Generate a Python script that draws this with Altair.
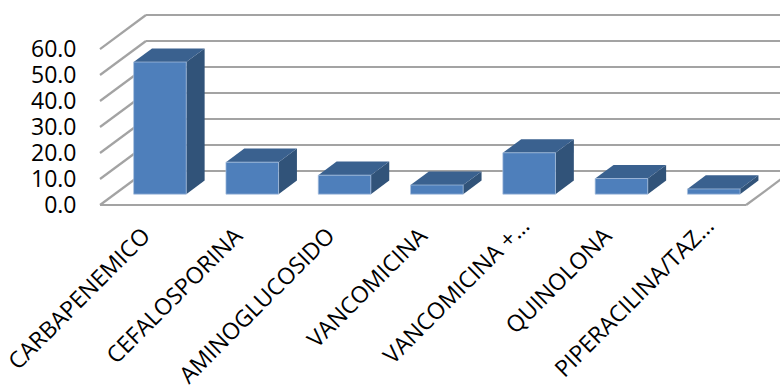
import altair as alt
import pandas as pd

# Chart values
categories = ["CARBAPENEMICO", "CEFALOSPORINA", "AMINOGLUCOSIDO", "VANCOMICINA",
              "VANCOMICINA +…", "QUINOLONA", "PIPERACILINA/TAZ…"]
values = [50.8, 12.3, 7.3, 3.5, 15.9, 6.0, 2.0]
y_ticks = [0, 10, 20, 30, 40, 50, 60]

# Oblique projection: how far one full depth unit moves along each axis
DEPTH_X = 0.498     # in category slots
DEPTH_Y = 13.08     # in value units
BAR_DEPTH_NEAR = 0.32
BAR_DEPTH_FAR = 0.72
BAR_INSET = 0.205
BAR_WIDTH = 0.57
n = len(categories)

X_SCALE = alt.Scale(domain=[-0.2167, 7.367], nice=False, zero=False)
Y_SCALE = alt.Scale(domain=[-1.92, 78.85], nice=False, zero=False)


def project(u, v, depth):
    return u + depth * DEPTH_X, v + depth * DEPTH_Y


# Wall and floor lines
lines = []
for t in y_ticks:
    lines.append(dict(zip(("x", "y"), project(0, t, 0))) | dict(zip(("x2", "y2"), project(0, t, 1))))
    lines.append(dict(zip(("x", "y"), project(0, t, 1))) | dict(zip(("x2", "y2"), project(n, t, 1))))
lines.append(dict(zip(("x", "y"), project(0, 0, 0))) | dict(zip(("x2", "y2"), project(n, 0, 0))))
lines.append(dict(zip(("x", "y"), project(n, 0, 0))) | dict(zip(("x2", "y2"), project(n, 0, 1))))
lines_df = pd.DataFrame(lines)

# Faces of each bar
front, side, top = [], [], []
for i, (name, value) in enumerate(zip(categories, values)):
    left = i + BAR_INSET
    right = left + BAR_WIDTH
    x0, y0 = project(left, 0, BAR_DEPTH_NEAR)
    x1, y1 = project(right, value, BAR_DEPTH_NEAR)
    front.append({"cat": name, "x": x0, "x2": x1, "y": y0, "y2": y1})
    for depth in (BAR_DEPTH_NEAR, BAR_DEPTH_FAR):
        xs, ys = project(right, 0, depth)
        _, yt = project(right, value, depth)
        side.append({"cat": name, "x": xs, "y": ys, "y2": yt})
        xl, yl = project(left, value, depth)
        xr, _ = project(right, value, depth)
        top.append({"cat": name, "x": xl, "x2": xr, "y": yl})
front_df, side_df, top_df = map(pd.DataFrame, (front, side, top))

label_list = ",".join("'" + c + "'" for c in categories)

# Shortened labels sit a little further along their slope
SHORTENED = "datum.value == 4.5 || datum.value == 6.5"

X_AXIS = alt.Axis(
    values=[i + 0.5 for i in range(n)],
    labelExpr=f"[{label_list}][floor(datum.value)]",
    labelAngle=-45, labelAlign="right", labelBaseline="middle",
    labelFontSize=23, labelFont="Open Sans", labelColor="#000000",
    labelPadding={"condition": {"test": SHORTENED, "value": 12}, "value": 22},
    labelOffset={"condition": {"test": SHORTENED, "value": 10}, "value": 0},
    labelLimit=400, labelOverlap=False, labelBound=False, labelFlush=False,
    domain=False, ticks=False, grid=False, title=None)
Y_AXIS = alt.Axis(
    values=y_ticks, format=".1f",
    labelFontSize=23, labelFont="Open Sans", labelColor="#000000",
    labelPadding=4, labelOverlap=False, labelBound=False, labelFlush=False,
    domain=False, ticks=False, grid=False, title=None)

x_enc = alt.X("x:Q", scale=X_SCALE, axis=X_AXIS)
y_enc = alt.Y("y:Q", scale=Y_SCALE, axis=Y_AXIS)

grid = alt.Chart(lines_df).mark_rule(color="#A3A3A3", strokeWidth=2.2, clip=True).encode(
    x=x_enc, x2="x2:Q", y=y_enc, y2="y2:Q",
)

side_faces = alt.Chart(side_df).mark_area(color="#315379", clip=True).encode(
    x=x_enc, y=alt.Y("y:Q", scale=Y_SCALE, axis=Y_AXIS, stack=False), y2="y2:Q", detail="cat:N",
)

top_faces = alt.Chart(top_df).mark_area(color="#3A618F", orient="horizontal", clip=True).encode(
    x=alt.X("x:Q", scale=X_SCALE, axis=X_AXIS, stack=False), x2="x2:Q",
    y=y_enc, detail="cat:N",
)

front_faces = alt.Chart(front_df).mark_rect(
    color="#4E7FBB", stroke="#A9C1DE", strokeWidth=1, strokeOpacity=0.7, clip=True
).encode(
    x=x_enc, x2="x2:Q", y=y_enc, y2="y2:Q",
)

chart = alt.layer(grid, side_faces, top_faces, front_faces).properties(
    width=700, height=210,
    padding={"left": 80, "top": 0, "right": 0, "bottom": 175},
    autosize="none",
    background="#FFFFFF",
).configure_view(stroke=None)

chart.save("out.html", embed_options={"renderer": "svg", "actions": False})
